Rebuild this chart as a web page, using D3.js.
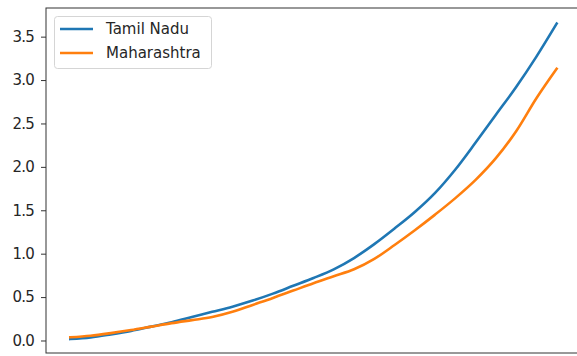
<!DOCTYPE html>
<html>
<head>
<meta charset="utf-8">
<script src="https://cdn.jsdelivr.net/npm/d3@7"></script>
<style>
  body { margin: 0; background: #fff; }
  svg { display: block; font-family: 'DejaVu Sans', sans-serif; }
</style>
</head>
<body>
<svg></svg>
<script>
let seriesNames = ['Tamil Nadu', 'Maharashtra']
let seriesColors = ['#1f77b4', '#ff7f0e']

let tamilNadu = [0.017, 0.035, 0.07, 0.11, 0.16, 0.21, 0.27, 0.33, 0.39, 0.46,
                 0.54, 0.63, 0.72, 0.82, 0.95, 1.11, 1.29, 1.48, 1.70, 1.97,
                 2.28, 2.60, 2.92, 3.27, 3.65]
let maharashtra = [0.037, 0.055, 0.085, 0.12, 0.16, 0.20, 0.235, 0.27, 0.33, 0.41,
                   0.49, 0.575, 0.66, 0.74, 0.82, 0.94, 1.10, 1.27, 1.45, 1.64,
                   1.85, 2.10, 2.41, 2.79, 3.13]
let yTicks = [0, 0.5, 1.0, 1.5, 2.0, 2.5, 3.0, 3.5]

window.addEventListener('DOMContentLoaded', () => {
  let svgWidth = 577
  let svgHeight = 356
  let left = 46
  let right = 581
  let top = 8
  let bottom = 353

  let allSeries = [tamilNadu, maharashtra]
  let n = tamilNadu.length - 1

  let svg = d3.select('svg')
      .attr('width', svgWidth)
      .attr('height', svgHeight)

  /* scales, with matplotlib style 5% margins */
  let xScale = d3.scaleLinear()
                  .domain([-0.05 * n, 1.05 * n])
                  .range([left, right])
  let yScale = d3.scaleLinear()
                  .domain([-0.144, 3.83])
                  .range([bottom, top])

  /* lines */
  let line = d3.line()
                .x((d, i) => xScale(i))
                .y(d => yScale(d))
                .curve(d3.curveMonotoneX)

  svg.selectAll('.series')
    .data(allSeries)
    .enter()
    .append('path')
      .classed('series', true)
      .attr('d', d => line(d))
      .attr('fill', 'none')
      .attr('stroke', (d, i) => seriesColors[i])
      .attr('stroke-width', 2.6)
      .attr('stroke-linejoin', 'round')
      .attr('stroke-linecap', 'square')

  /* y-axis */
  let yAxis = d3.axisLeft(yScale)
                .tickValues(yTicks)
                .tickFormat(d3.format('.1f'))
                .tickSize(5)
                .tickPadding(7)
  let yG = svg.append('g')
      .attr('transform', `translate(${left}, 0)`)
      .call(yAxis)
  yG.select('.domain').remove()
  yG.selectAll('line').attr('stroke', '#333')
  yG.selectAll('text')
      .attr('fill', '#262626')
      .style('font-size', '15px')
      .style('letter-spacing', '-0.8px')
      .style('font-family', "'DejaVu Sans', sans-serif")

  /* frame */
  svg.append('rect')
      .attr('x', left)
      .attr('y', top)
      .attr('width', right - left)
      .attr('height', bottom - top)
      .attr('fill', 'none')
      .attr('stroke', '#333')
      .attr('stroke-width', 1)

  /* legend */
  let legend = svg.append('g')
  legend.append('rect')
      .attr('x', 54.5)
      .attr('y', 16.5)
      .attr('width', 157)
      .attr('height', 52)
      .attr('rx', 3)
      .attr('fill', '#fff')
      .attr('fill-opacity', 0.8)
      .attr('stroke', '#d5d5d5')

  let items = legend.selectAll('.item')
    .data(seriesNames)
    .enter()
    .append('g')
      .attr('transform', (d, i) => `translate(0, ${29 + i * 24})`)

  items.append('line')
      .attr('x1', 60)
      .attr('x2', 93)
      .attr('stroke', (d, i) => seriesColors[i])
      .attr('stroke-width', 2.6)

  items.append('text')
      .attr('x', 106)
      .attr('dy', '0.35em')
      .attr('fill', '#262626')
      .style('font-size', '15px')
      .text(d => d)
})
</script>
</body>
</html>
